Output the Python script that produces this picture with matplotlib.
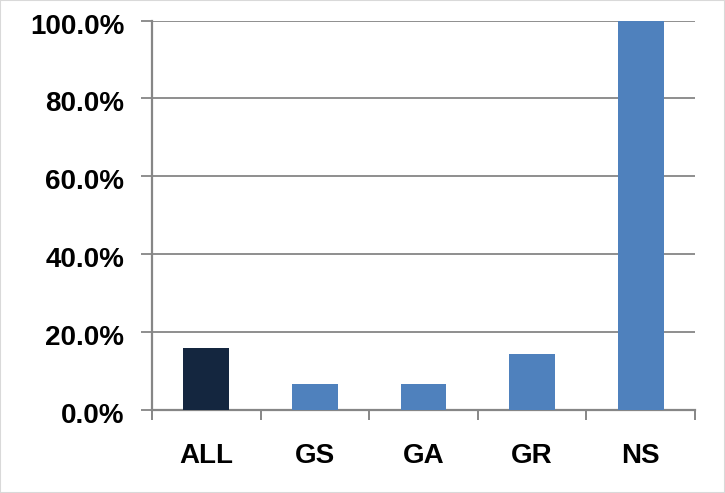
import matplotlib
matplotlib.use("Agg")
import matplotlib.pyplot as plt
import matplotlib.transforms as mtransforms
from matplotlib.ticker import FuncFormatter, MultipleLocator, FixedLocator

categories = ["ALL", "GS", "GA", "GR", "NS"]
values = [15.9, 6.7, 6.7, 14.4, 100.0]
colors = ["#14263f", "#4f81bd", "#4f81bd", "#4f81bd", "#4f81bd"]

plt.rcParams['font.family'] = ['Liberation Sans', 'DejaVu Sans']

fig = plt.figure(figsize=(7.25, 4.93), dpi=100)
ax = fig.add_axes([152/725, 83/493, 543/725, 389.5/493])

x = range(len(categories))
ax.bar(x, values, width=0.42, color=colors, zorder=3)

ax.set_xlim(-0.5, len(categories) - 0.5)
ax.set_ylim(0, 100)
ax.yaxis.set_major_locator(MultipleLocator(20))
ax.yaxis.set_major_formatter(FuncFormatter(lambda v, p: f"{v:.1f}%"))
ax.grid(axis='y', color='#868686', linewidth=1.3, zorder=0)
ax.set_axisbelow(True)

ax.set_xticks(list(x))
ax.set_xticklabels(categories)
ax.xaxis.set_minor_locator(FixedLocator([i - 0.5 for i in range(len(categories) + 1)]))
ax.tick_params(axis='x', which='major', length=0, pad=24)
ax.tick_params(axis='x', which='minor', length=7.5, width=1.4, color='#868686', direction='out')
ax.tick_params(axis='y', which='major', length=8, width=1.3, color='#868686', direction='out', pad=12)

offset = mtransforms.ScaledTranslation(0, -3/100, fig.dpi_scale_trans)
for lab in ax.get_yticklabels():
    lab.set_transform(lab.get_transform() + offset)

for lab in ax.get_xticklabels() + ax.get_yticklabels():
    lab.set_fontsize(20)
    lab.set_fontweight('bold')
    lab.set_color('black')

for s in ['top', 'right']:
    ax.spines[s].set_visible(False)
for s in ['left', 'bottom']:
    ax.spines[s].set_color('#868686')
    ax.spines[s].set_linewidth(1.6)

fig.patches.append(plt.Rectangle((0, 0), 1, 1, transform=fig.transFigure,
                                 fill=False, edgecolor='#d9d9d9', linewidth=1.5))

fig.savefig("out.png", dpi=100)
